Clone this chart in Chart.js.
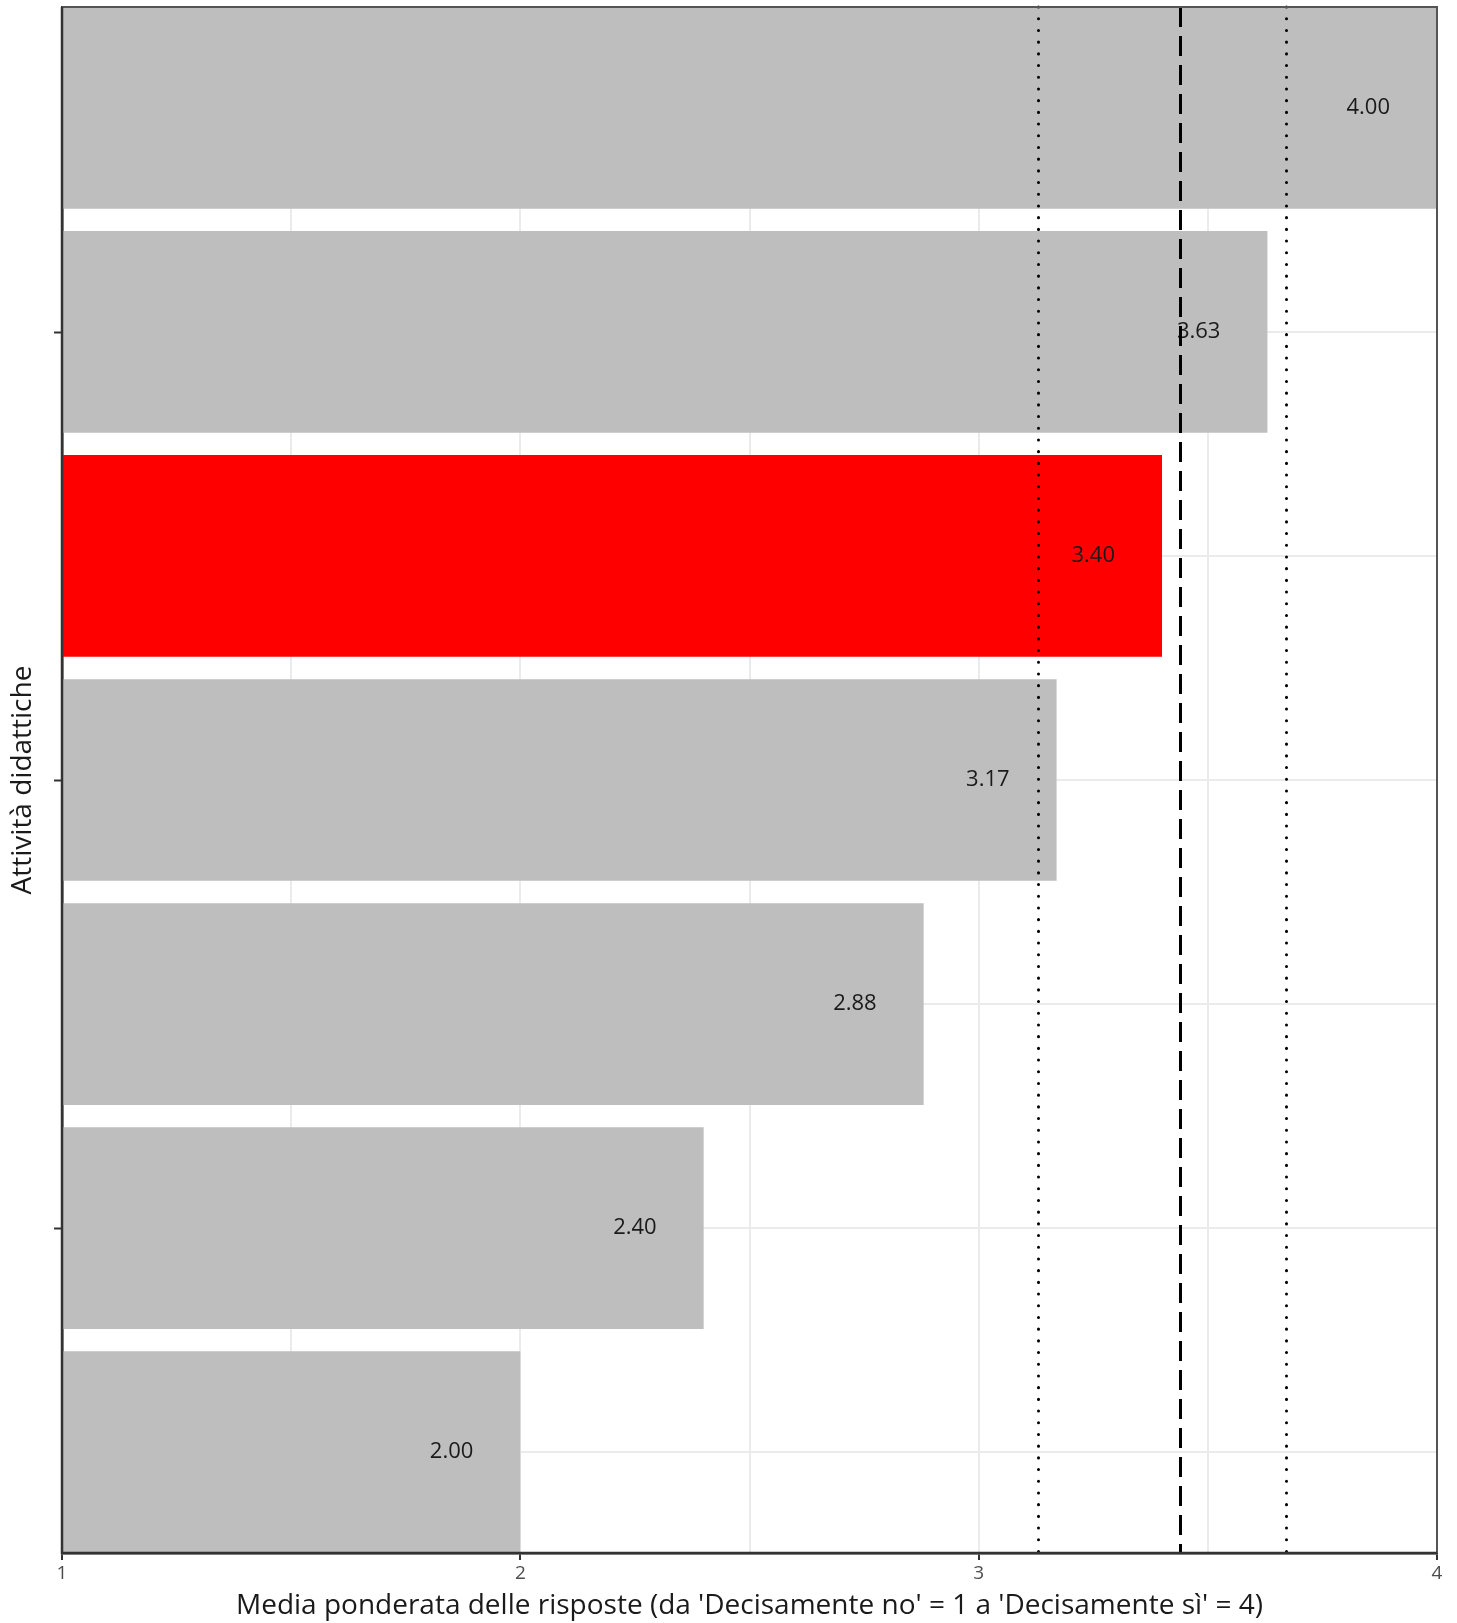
<!DOCTYPE html>
<html>
<head>
<meta charset="utf-8">
<script src="https://cdn.jsdelivr.net/npm/chart.js@4"></script>
<style>
  html, body { margin: 0; padding: 0; background: #fff; }
  #wrap { width: 1457px; height: 1623px; position: relative; }
</style>
</head>
<body>
<div id="wrap"><canvas id="chart"></canvas></div>
<script>
// Attività (dall'alto verso il basso), valori medi
var activities = ['Attività 1', 'Attività 2', 'Attività 3', 'Attività 4', 'Attività 5', 'Attività 6', 'Attività 7'];
var means = [4.00, 3.63, 3.40, 3.17, 2.88, 2.40, 2.00];
var highlighted = [false, false, true, false, false, false, false];
var refLines = [3.13, 3.44, 3.67];
var refStyles = ['dotted', 'dashed', 'dotted'];
var xTicks = [1, 1.5, 2, 2.5, 3, 3.5, 4];
var yTickMarks = [1, 3, 5];

var GREY = '#bebebe';
var RED = '#ff0000';
var FONT = "'Open Sans', 'Noto Sans', sans-serif";

var points = means.map(function(v, i) { return { x: v, y: i }; });

function tickVal(c) {
  return c && c.tick ? c.tick.value : NaN;
}

var overlay = {
  id: 'overlay',
  afterDatasetsDraw: function(chart) {
    var ctx = chart.ctx;
    var xs = chart.scales.x;
    var ys = chart.scales.y;
    var area = chart.chartArea;
    var meta = chart.getDatasetMeta(0);

    // etichette dei valori
    ctx.save();
    ctx.fillStyle = '#1a1a1a';
    ctx.font = '22px ' + FONT;
    ctx.textAlign = 'center';
    ctx.textBaseline = 'middle';
    meta.data.forEach(function(bar, i) {
      ctx.fillText(means[i].toFixed(2), xs.getPixelForValue(means[i] - 0.15), bar.y);
    });
    ctx.restore();

    // linee di riferimento
    ctx.save();
    ctx.strokeStyle = '#000';
    refLines.forEach(function(v, i) {
      var px = Math.round(xs.getPixelForValue(v)) + 0.5;
      ctx.lineWidth = 3;
      if (refStyles[i] === 'dashed') {
        ctx.setLineDash([20, 9]);
        ctx.lineCap = 'butt';
      } else {
        ctx.setLineDash([0.1, 11.6]);
        ctx.lineCap = 'round';
      }
      ctx.beginPath();
      ctx.moveTo(px, area.top);
      ctx.lineTo(px, area.bottom);
      ctx.stroke();
    });
    ctx.restore();

    // bordo del pannello (alto e destra)
    ctx.save();
    ctx.strokeStyle = '#555';
    ctx.lineWidth = 2;
    ctx.beginPath();
    ctx.moveTo(area.left, area.top);
    ctx.lineTo(area.right, area.top);
    ctx.lineTo(area.right, area.bottom);
    ctx.stroke();
    // assi sinistro e inferiore sopra le barre
    ctx.strokeStyle = '#333';
    ctx.lineWidth = 2.5;
    ctx.beginPath();
    ctx.moveTo(area.left, area.top);
    ctx.lineTo(area.left, area.bottom);
    ctx.lineTo(area.right, area.bottom);
    ctx.stroke();
    ctx.restore();

    // tacche dell'asse y
    ctx.save();
    ctx.strokeStyle = '#333';
    ctx.lineWidth = 2;
    yTickMarks.forEach(function(v) {
      var py = Math.round(ys.getPixelForValue(v)) + 0.5;
      ctx.beginPath();
      ctx.moveTo(area.left - 8, py);
      ctx.lineTo(area.left, py);
      ctx.stroke();
    });
    ctx.restore();
  }
};

new Chart(document.getElementById('chart'), {
  type: 'bar',
  data: {
    datasets: [{
      label: 'Media ponderata',
      data: points,
      backgroundColor: highlighted.map(function(h) { return h ? RED : GREY; }),
      borderWidth: 0,
      barPercentage: 0.9,
      categoryPercentage: 1.0
    }]
  },
  options: {
    indexAxis: 'y',
    responsive: true,
    maintainAspectRatio: false,
    animation: false,
    layout: { padding: { left: 0, top: 7, right: 20, bottom: 0 } },
    plugins: {
      legend: { display: false },
      tooltip: { enabled: false }
    },
    scales: {
      x: {
        type: 'linear',
        min: 1,
        max: 4,
        afterBuildTicks: function(scale) {
          scale.ticks = xTicks.map(function(v) { return { value: v }; });
        },
        afterFit: function(scale) { scale.height = 70; },
        grid: {
          color: '#ebebeb',
          lineWidth: 2,
          drawTicks: true,
          tickLength: 7,
          tickColor: function(c) {
            return Number.isInteger(tickVal(c)) ? '#333' : 'rgba(0,0,0,0)';
          }
        },
        border: { color: '#333', width: 2.5 },
        ticks: {
          color: '#4d4d4d',
          font: { size: 19, family: FONT },
          padding: 2,
          maxRotation: 0,
          autoSkip: false,
          callback: function(v) { return Number.isInteger(v) ? String(v) : ''; }
        },
        title: {
          display: true,
          text: "Media ponderata delle risposte (da 'Decisamente no' = 1 a 'Decisamente sì' = 4)",
          color: '#1a1a1a',
          font: { size: 28, family: FONT },
          padding: { top: 0, bottom: 0 }
        }
      },
      y: {
        type: 'linear',
        reverse: true,
        offset: false,
        min: -0.45,
        max: activities.length - 0.55,
        afterBuildTicks: function(scale) {
          scale.ticks = activities.map(function(a, i) { return { value: i }; });
        },
        afterFit: function(scale) { scale.width = 62; },
        grid: {
          color: '#ebebeb',
          lineWidth: 2,
          offset: false,
          drawTicks: false
        },
        border: { color: '#333', width: 2.5 },
        ticks: { display: false },
        title: {
          display: true,
          text: 'Attività didattiche',
          color: '#1a1a1a',
          font: { size: 28, family: FONT },
          padding: { top: 6, bottom: 0 }
        }
      }
    }
  },
  plugins: [overlay]
});
</script>
</body>
</html>
